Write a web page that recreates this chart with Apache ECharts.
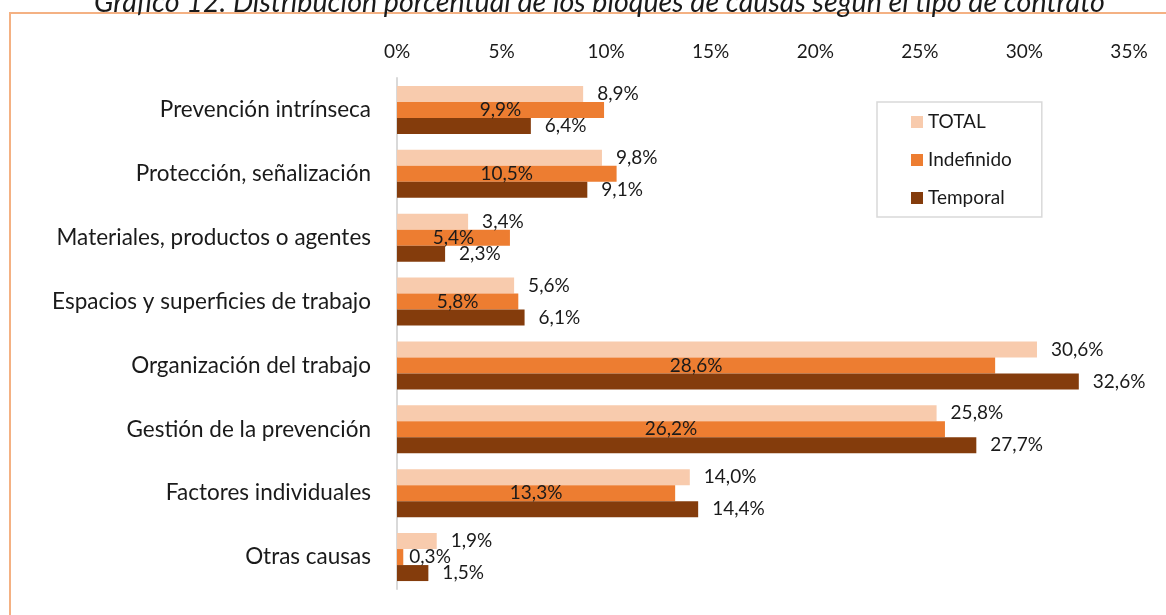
<!DOCTYPE html>
<html>
<head>
<meta charset="utf-8">
<script src="https://cdn.jsdelivr.net/npm/echarts@6/dist/echarts.min.js"></script>
<style>
  html, body { margin: 0; padding: 0; background: #fff; }
  #echarts_id { width: 1166px; height: 615px; }
</style>
</head>
<body>
<div id="echarts_id"></div>
<script>
// 数据
var categories = ['Prevención intrínseca', 'Protección, señalización', 'Materiales, productos o agentes',
    'Espacios y superficies de trabajo', 'Organización del trabajo', 'Gestión de la prevención',
    'Factores individuales', 'Otras causas'];
var total = [8.9, 9.8, 3.4, 5.6, 30.6, 25.8, 14.0, 1.9];
var indefinido = [9.9, 10.5, 5.4, 5.8, 28.6, 26.2, 13.3, 0.3];
var temporal = [6.4, 9.1, 2.3, 6.1, 32.6, 27.7, 14.4, 1.5];
var xTicks = ['0%', '5%', '10%', '15%', '20%', '25%', '30%', '35%'];

var FONT = 'Lato';

function pct(p) {
    return p.value.toFixed(1).replace('.', ',') + '%';
}

// 太短的柱子标签放在右侧
var indefData = indefinido.map(function (v) {
    if (v < 1) {
        return { value: v, label: { position: 'right', distance: 6 } };
    }
    return v;
});

var myChart = echarts.init(document.getElementById('echarts_id'));

option = {
    backgroundColor: '#fff',
    animation: false,
    title: {
        text: 'Gráfico 12. Distribución porcentual de los bloques de causas según el tipo de contrato',
        left: 89,
        top: -17,
        textStyle: { fontFamily: FONT, fontStyle: 'italic', fontWeight: 'normal', fontSize: 28.6, color: '#1a1a1a' }
    },
    graphic: [{
        type: 'rect',
        shape: { x: 10, y: 13, width: 1300, height: 800 },
        style: { fill: 'none', stroke: '#f4b183', lineWidth: 2 },
        silent: true
    }],
    legend: {
        orient: 'vertical',
        left: 877,
        top: 102,
        padding: [10, 30, 9, 34],
        borderColor: '#d9d9d9',
        borderWidth: 1.5,
        itemWidth: 12,
        itemHeight: 12,
        itemGap: 18,
        icon: 'rect',
        textStyle: { fontFamily: FONT, fontSize: 19, color: '#1a1a1a', lineHeight: 20 },
        data: ['TOTAL', 'Indefinido', 'Temporal']
    },
    grid: { left: 397, right: 37, top: 78, bottom: 26, containLabel: false },
    xAxis: {
        type: 'value',
        position: 'top',
        min: 0,
        max: 35,
        interval: 5,
        axisLine: { show: false },
        axisTick: { show: false },
        splitLine: { show: false },
        axisLabel: {
            margin: 17,
            fontFamily: FONT, fontSize: 19, color: '#1a1a1a',
            formatter: function (v) { return xTicks[Math.round(v / 5)]; }
        }
    },
    yAxis: {
        type: 'category',
        inverse: true,
        data: categories,
        axisLine: { show: true, lineStyle: { color: '#d9d9d9', width: 2 } },
        axisTick: { show: false },
        axisLabel: { margin: 26, fontFamily: FONT, fontSize: 22.5, color: '#1a1a1a' }
    },
    series: [{
        name: 'TOTAL',
        type: 'bar',
        data: total,
        barWidth: 16,
        barGap: '0%',
        itemStyle: { color: '#f8cbad' },
        label: { show: true, position: 'right', distance: 14, formatter: pct,
            fontFamily: FONT, fontSize: 19, color: '#1a1a1a' }
    }, {
        name: 'Indefinido',
        type: 'bar',
        data: indefData,
        barWidth: 16,
        barGap: '0%',
        itemStyle: { color: '#ed7d31' },
        label: { show: true, position: 'inside', formatter: pct,
            fontFamily: FONT, fontSize: 19, color: '#1a1a1a' }
    }, {
        name: 'Temporal',
        type: 'bar',
        data: temporal,
        barWidth: 16,
        barGap: '0%',
        itemStyle: { color: '#843c0c' },
        label: { show: true, position: 'right', distance: 14, formatter: pct,
            fontFamily: FONT, fontSize: 19, color: '#1a1a1a' }
    }]
};

myChart.setOption(option);
</script>
</body>
</html>
